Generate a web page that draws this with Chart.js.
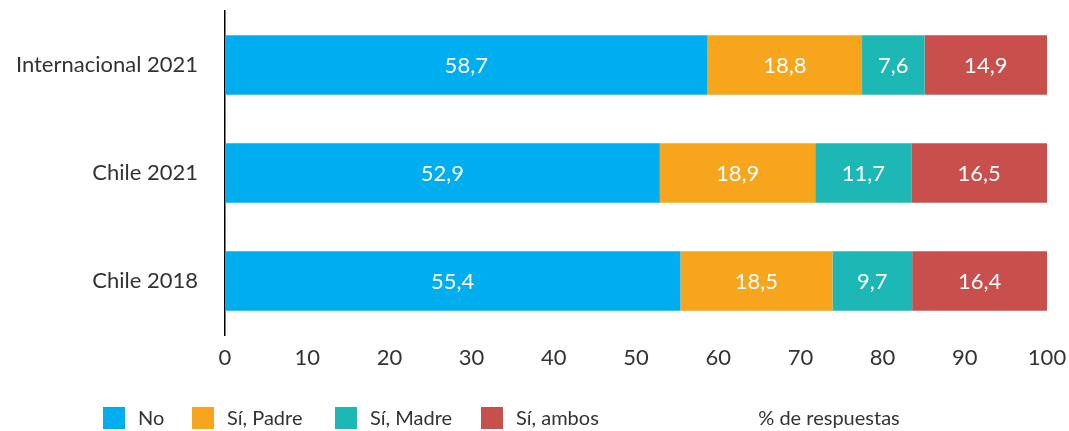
<!DOCTYPE html>
<html>
<head>
<meta charset="utf-8">
<script src="https://cdn.jsdelivr.net/npm/chart.js@4"></script>
<style>
  html, body { margin: 0; padding: 0; background: #fff; }
  #wrap { width: 1069px; height: 431px; position: relative; }
</style>
</head>
<body>
<div id="wrap"><canvas id="chart" width="1069" height="431"></canvas></div>
<script>
var categories = ["Internacional 2021", "Chile 2021", "Chile 2018"];
var seriesNames = ["No", "Sí, Padre", "Sí, Madre", "Sí, ambos"];
var seriesColors = ["#00AEEF", "#F7A51D", "#1DB8B5", "#C94F4C"];
var valuesNo = [58.7, 52.9, 55.4];
var valuesPadre = [18.8, 18.9, 18.5];
var valuesMadre = [7.6, 11.7, 9.7];
var valuesAmbos = [14.9, 16.5, 16.4];
var axisTitle = "% de respuestas";

var FONT = "Lato, 'Open Sans', sans-serif";
var TEXT = "#333333";

var allValues = [valuesNo, valuesPadre, valuesMadre, valuesAmbos];
var datasets = [];
for (var i = 0; i < seriesNames.length; i++) {
    datasets.push({
        label: seriesNames[i],
        data: allValues[i],
        backgroundColor: seriesColors[i],
        borderWidth: 0,
        categoryPercentage: 1,
        barPercentage: 0.55
    });
}

var fmt = (v) => v.toFixed(1).replace(".", ",");

// white value labels in the middle of each segment
var barLabels = {
    id: 'barLabels',
    afterDatasetsDraw: (chart) => {
        var ctx = chart.ctx;
        ctx.save();
        ctx.fillStyle = "#fff";
        ctx.font = "22px " + FONT;
        ctx.textAlign = "center";
        ctx.textBaseline = "middle";
        chart.data.datasets.forEach((ds, di) => {
            chart.getDatasetMeta(di).data.forEach((bar, j) => {
                ctx.fillText(fmt(ds.data[j]), (bar.x + bar.base) / 2, bar.y + 1);
            });
        });
        ctx.restore();
    }
};

// legend row + axis title along the bottom
var bottomRow = {
    id: 'bottomRow',
    afterDraw: (chart) => {
        var ctx = chart.ctx;
        var starts = [103, 192, 335, 481];
        var y = 418;
        ctx.save();
        ctx.font = "20px " + FONT;
        ctx.textBaseline = "middle";
        ctx.textAlign = "left";
        chart.data.datasets.forEach((ds, i) => {
            ctx.fillStyle = ds.backgroundColor;
            ctx.fillRect(starts[i], y - 11, 22, 22);
            ctx.fillStyle = TEXT;
            ctx.fillText(ds.label, starts[i] + 35, y + 1);
        });
        ctx.textAlign = "center";
        ctx.fillText(axisTitle, 829, y + 1);
        ctx.restore();
    }
};

var noPad = (s) => {
    s.paddingLeft = 0; s.paddingRight = 0;
    s.paddingTop = 0; s.paddingBottom = 0;
};

var ctx = document.getElementById('chart').getContext('2d');
var chart = new Chart(ctx, {
    type: 'bar',
    data: { labels: categories, datasets: datasets },
    plugins: [barLabels, bottomRow],
    options: {
        indexAxis: 'y',
        responsive: false,
        animation: false,
        layout: { padding: { top: 11, right: 22, bottom: 60, left: 0 } },
        plugins: {
            legend: { display: false },
            tooltip: { enabled: false }
        },
        scales: {
            x: {
                stacked: true,
                min: 0,
                max: 100,
                grid: { display: false, drawTicks: false },
                border: { display: false },
                ticks: {
                    stepSize: 10,
                    padding: 10,
                    color: TEXT,
                    font: { family: FONT, size: 22 }
                },
                afterFit: (s) => { s.height = 36; noPad(s); }
            },
            y: {
                stacked: true,
                grid: { display: false, drawTicks: false },
                border: { display: true, color: "#000", width: 1.5 },
                ticks: {
                    padding: 27,
                    color: TEXT,
                    font: { family: FONT, size: 22 }
                },
                afterFit: (s) => { s.width = 225; noPad(s); }
            }
        }
    }
});
</script>
</body>
</html>
